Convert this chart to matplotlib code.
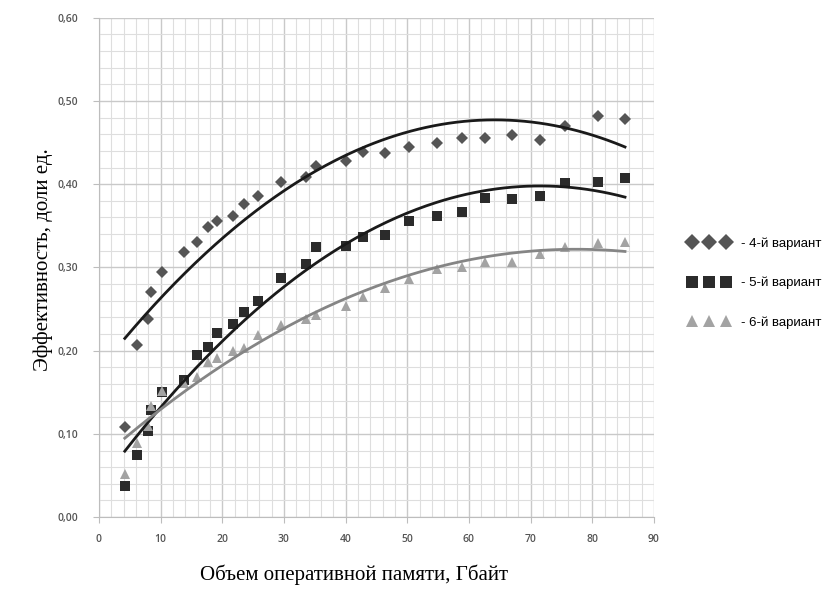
import numpy as np
import matplotlib.pyplot as plt
from matplotlib.ticker import MultipleLocator, FuncFormatter

# объем памяти, Гбайт
memory = [4.2, 6.2, 8.0, 8.5, 10.2, 13.8, 15.9, 17.7, 19.1, 21.7, 23.5, 25.8, 29.5,
          33.5, 35.2, 40.1, 42.8, 46.4, 50.2, 54.8, 58.9, 62.6, 66.9, 71.5, 75.5,
          80.9, 85.3]

# эффективность по вариантам
var4 = [0.108, 0.207, 0.238, 0.271, 0.294, 0.319, 0.330, 0.348, 0.356, 0.362, 0.376,
        0.386, 0.403, 0.409, 0.422, 0.428, 0.439, 0.437, 0.445, 0.450, 0.456, 0.456,
        0.459, 0.453, 0.470, 0.482, 0.478]
var5 = [0.037, 0.075, 0.104, 0.129, 0.150, 0.165, 0.195, 0.204, 0.221, 0.232, 0.247,
        0.260, 0.287, 0.304, 0.325, 0.326, 0.336, 0.339, 0.356, 0.362, 0.366, 0.383,
        0.382, 0.386, 0.402, 0.403, 0.408]
var6 = [0.052, 0.089, 0.110, 0.134, 0.151, 0.161, 0.168, 0.186, 0.191, 0.200, 0.203,
        0.219, 0.231, 0.238, 0.243, 0.254, 0.265, 0.275, 0.286, 0.298, 0.300, 0.306,
        0.307, 0.316, 0.324, 0.329, 0.331]

labels = ["- 4-й вариант", "- 5-й вариант", "- 6-й вариант"]

fig = plt.figure(figsize=(8.31, 5.91), dpi=100)
ax = fig.add_axes([0.119, 0.125, 0.668, 0.845])

x = np.array(memory)
xs = np.linspace(x.min(), x.max(), 200)

series = [
    (var4, "D", "#555555", 6.5, "#1a1a1a"),
    (var5, "s", "#2b2b2b", 7.5, "#1a1a1a"),
    (var6, "^", "#a3a3a3", 7.5, "#858585"),
]

# точки
for (vals, m, c, ms, lc), lab in zip(series, labels):
    ax.plot(x, vals, linestyle="none", marker=m, color=c, markersize=ms,
            markeredgewidth=0, label=lab, zorder=3)

# полиномиальные линии тренда (2-я степень)
for vals, m, c, ms, lc in series:
    coef = np.polyfit(x, vals, 2)
    ax.plot(xs, np.polyval(coef, xs), color=lc, linewidth=2, zorder=4)

ax.set_xlim(0, 90)
ax.set_ylim(0, 0.6)
ax.xaxis.set_major_locator(MultipleLocator(10))
ax.xaxis.set_minor_locator(MultipleLocator(2))
ax.yaxis.set_major_locator(MultipleLocator(0.1))
ax.yaxis.set_minor_locator(MultipleLocator(0.02))
ax.yaxis.set_major_formatter(FuncFormatter(lambda v, p: f"{v:.2f}".replace(".", ",")))

ax.grid(which="major", color="#c9c9c9", linewidth=1.0)
ax.grid(which="minor", color="#dedede", linewidth=0.8)
ax.set_axisbelow(True)

for s in ["top", "right"]:
    ax.spines[s].set_visible(False)
for s in ["left", "bottom"]:
    ax.spines[s].set_color("#bdbdbd")
ax.tick_params(which="major", length=4, color="#bdbdbd", labelsize=7.5,
               labelcolor="#555555")
ax.tick_params(axis="y", pad=11)
ax.tick_params(axis="x", pad=8)
ax.tick_params(which="minor", length=0)
for t in ax.get_xticklabels() + ax.get_yticklabels():
    t.set_family("Open Sans")
    t.set_fontweight("semibold")

fig.text(0.426, 0.027, "Объем оперативной памяти, Гбайт", ha="center",
         va="center", family="Liberation Serif", fontsize=15)
fig.text(0.052, 0.56, "Эффективность, доли ед.", ha="center", va="center",
         rotation=90, family="Liberation Serif", fontsize=15)

leg = fig.legend(loc="center left", bbox_to_anchor=(0.822, 0.521), frameon=False,
                 numpoints=3, markerscale=1.2, handlelength=3.18, handletextpad=0.83,
                 labelspacing=2.05, borderaxespad=0,
                 prop={"family": "Liberation Sans", "size": 9.5})

fig.savefig("out.png", dpi=100)
